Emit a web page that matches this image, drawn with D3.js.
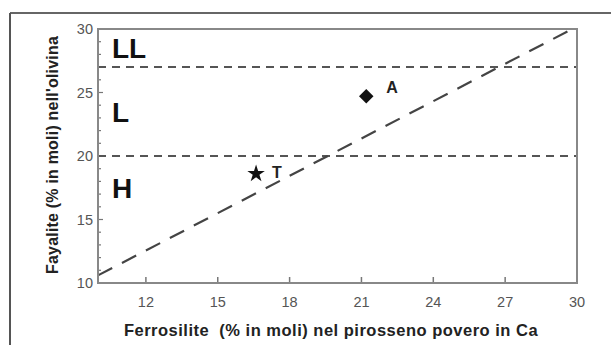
<!DOCTYPE html>
<html>
<head>
<meta charset="utf-8">
<script src="https://cdn.jsdelivr.net/npm/d3@7"></script>
<style>
  body { margin: 0; background: #fff; }
  text { font-family: "Liberation Sans", Arial, sans-serif; }
</style>
</head>
<body>
<svg id="chart" width="611" height="345"></svg>
<script>
// values
const xTicks = [12, 15, 18, 21, 24, 27, 30];
const yTicks = [10, 15, 20, 25, 30];
const boundaries = [20, 27];            // H / L / LL limits on fayalite
const groups = [
  { name: "LL", y: 28.5 },
  { name: "L", y: 23.5 },
  { name: "H", y: 17.5 }
];
const diagonal = [[10, 10.6], [29.8, 30]];
const samples = [
  { name: "A", fs: 21.2, fa: 24.7, shape: "diamond" },
  { name: "T", fs: 16.6, fa: 18.6, shape: "star" }
];

const svg = d3.select("#chart");
const mLeft = 98, mRight = 577, mTop = 29, mBottom = 283;

const x = d3.scaleLinear().domain([10, 30]).range([mLeft, mRight]);
const y = d3.scaleLinear().domain([10, 30]).range([mBottom, mTop]);

// outer image frame (top and left edges only visible)
svg.append("line").attr("x1", 10).attr("x2", 611).attr("y1", 13).attr("y2", 13)
  .attr("stroke", "#666").attr("stroke-width", 2);
svg.append("line").attr("x1", 10).attr("x2", 10).attr("y1", 13).attr("y2", 345)
  .attr("stroke", "#555").attr("stroke-width", 2);

// minor y ticks, inward
svg.append("g").selectAll("line")
  .data(d3.range(11, 30))
  .join("line")
  .attr("x1", mLeft).attr("x2", d => mLeft + (d % 5 === 0 ? 5 : 3))
  .attr("y1", d => y(d)).attr("y2", d => y(d))
  .attr("stroke", "#777").attr("stroke-width", 1.2);

// x ticks, inward
svg.append("g").selectAll("line")
  .data(xTicks.slice(0, -1))
  .join("line")
  .attr("x1", d => x(d)).attr("x2", d => x(d))
  .attr("y1", mBottom).attr("y2", mBottom - 6)
  .attr("stroke", "#777").attr("stroke-width", 1.5);

// boundary lines
svg.append("g").selectAll("line")
  .data(boundaries)
  .join("line")
  .attr("x1", mLeft).attr("x2", mRight)
  .attr("y1", d => y(d)).attr("y2", d => y(d))
  .attr("stroke", "#555").attr("stroke-width", 2)
  .attr("stroke-dasharray", "8,6");

// diagonal dashed line
svg.append("path")
  .attr("d", d3.line().x(d => x(d[0])).y(d => y(d[1]))(diagonal))
  .attr("fill", "none")
  .attr("stroke", "#444").attr("stroke-width", 2.2)
  .attr("stroke-dasharray", "16,11");

// plot frame
svg.append("rect")
  .attr("x", mLeft).attr("y", mTop)
  .attr("width", mRight - mLeft).attr("height", mBottom - mTop)
  .attr("fill", "none").attr("stroke", "#888").attr("stroke-width", 2);

// tick labels
svg.append("g").selectAll("text")
  .data(xTicks)
  .join("text")
  .attr("x", d => x(d)).attr("y", 307)
  .attr("text-anchor", "middle")
  .attr("font-size", 14.5).attr("fill", "#555")
  .text(d => d);

svg.append("g").selectAll("text")
  .data(yTicks)
  .join("text")
  .attr("x", 93).attr("y", d => y(d) + 5)
  .attr("text-anchor", "end")
  .attr("font-size", 14.5).attr("fill", "#555")
  .text(d => d);

// group labels
svg.append("g").selectAll("text")
  .data(groups)
  .join("text")
  .attr("x", 112).attr("y", d => y(d.y) + 10)
  .attr("font-size", 28).attr("font-weight", "bold").attr("fill", "#111")
  .text(d => d.name);

// samples
const g = svg.append("g");
samples.forEach(s => {
  const isStar = s.shape === "star";
  g.append("path")
    .attr("d", d3.symbol(isStar ? d3.symbolStar : d3.symbolSquare, isStar ? 95 : 105)())
    .attr("transform", `translate(${x(s.fs)},${y(s.fa)})` + (isStar ? "" : " rotate(45)"))
    .attr("fill", "#111");
  g.append("text")
    .attr("x", x(s.fs) + (isStar ? 16 : 20)).attr("y", y(s.fa) + (isStar ? 4 : -3))
    .attr("font-size", 16).attr("font-weight", "bold").attr("fill", "#222")
    .text(s.name);
});

// axis titles
svg.append("text")
  .attr("x", 331).attr("y", 336)
  .attr("text-anchor", "middle")
  .attr("font-size", 16.5).attr("font-weight", "bold").attr("fill", "#222")
  .attr("letter-spacing", 0.5)
  .attr("xml:space", "preserve")
  .text("Ferrosilite  (% in moli) nel pirosseno povero in Ca");

svg.append("text")
  .attr("transform", "translate(58,155) rotate(-90)")
  .attr("text-anchor", "middle")
  .attr("font-size", 16).attr("font-weight", "bold").attr("fill", "#222")
  .attr("letter-spacing", 0.2)
  .text("Fayalite (% in moli) nell'olivina");
</script>
</body>
</html>
